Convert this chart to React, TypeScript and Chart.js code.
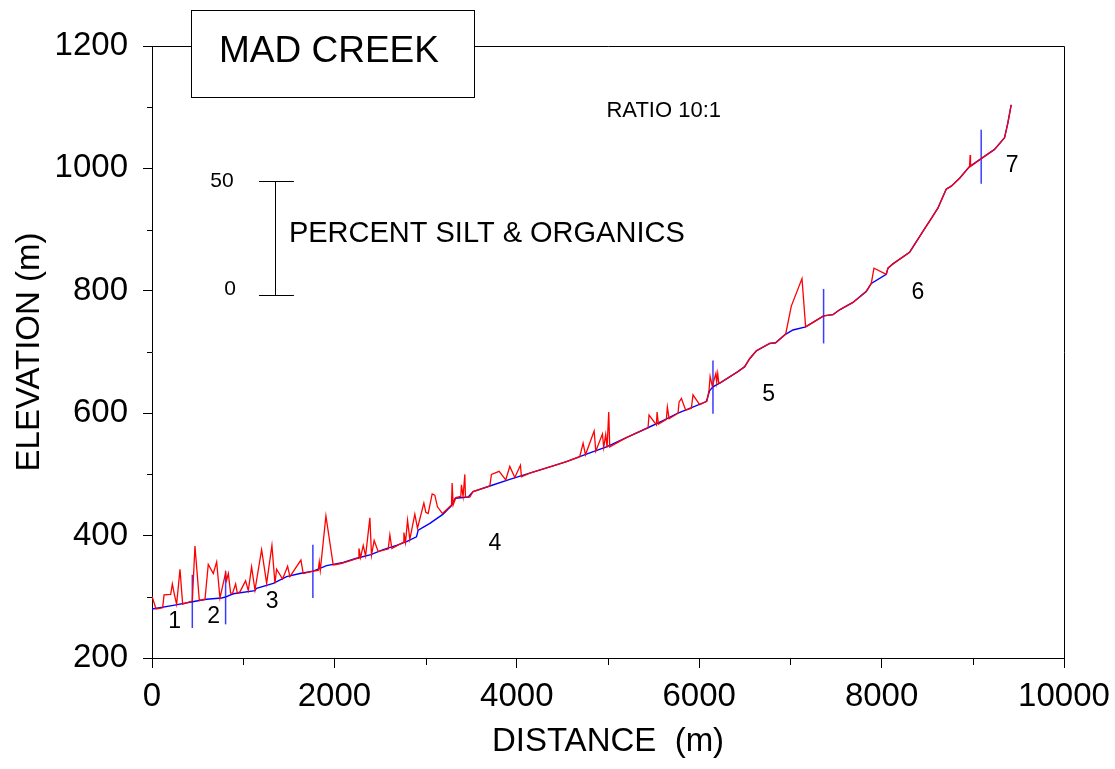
import React, { useEffect, useRef } from 'react';
import { Chart, registerables } from 'chart.js';

Chart.register(...registerables);

const FONT = 'Arial, "Liberation Sans", Helvetica, sans-serif';

// Stream-bed profile (blue): distance (m) and elevation (m)
const bedDistance = [0, 234, 442, 599, 763, 811, 891, 1129, 1147, 1330, 1476, 1622, 1768, 1914, 2097, 2243, 2400, 2535, 2681, 2791, 2900, 2919, 3047, 3192, 3284, 3325, 3467, 3521, 3704, 3923, 4142, 4398, 4545, 4690, 4763, 4983, 5201, 5420, 5603, 5768, 5896, 6078, 6115, 6151, 6225, 6425, 6499, 6553, 6627, 6773, 6838, 6937, 7028, 7167, 7266, 7364, 7467, 7540, 7686, 7832, 7887, 8051, 8070, 8124, 8307, 8453, 8544, 8617, 8708, 8764, 8855, 8964, 9092, 9238, 9348, 9384, 9421];
const bedElevation = [280, 286, 292, 296, 298, 300, 305, 310, 314, 322, 333, 338, 342, 351, 356, 363, 369, 377, 384, 390, 398, 409, 420, 435, 449, 461, 463, 472, 481, 492, 502, 514, 521, 529, 533, 545, 560, 575, 588, 600, 608, 619, 637, 643, 649, 668, 676, 689, 702, 714, 715, 728, 736, 741, 750, 759, 761, 769, 781, 799, 812, 827, 837, 844, 863, 897, 918, 935, 966, 971, 984, 1003, 1016, 1031, 1050, 1074, 1104];

// Percent silt & organics plotted on the profile (red): distance (m) and plotted elevation (m)
const siltDistance = [0, 44, 117, 132, 205, 223, 245, 270, 307, 336, 442, 471, 519, 581, 617, 672, 709, 745, 807, 818, 837, 862, 884, 917, 935, 964, 1026, 1056, 1092, 1129, 1202, 1257, 1315, 1348, 1366, 1432, 1487, 1512, 1633, 1658, 1768, 1823, 1834, 1845, 1907, 1987, 2060, 2261, 2269, 2287, 2316, 2342, 2389, 2407, 2436, 2480, 2590, 2608, 2630, 2754, 2762, 2780, 2802, 2827, 2882, 2911, 2981, 3003, 3028, 3072, 3101, 3130, 3185, 3284, 3291, 3302, 3331, 3386, 3393, 3411, 3430, 3437, 3485, 3521, 3704, 3722, 3806, 3879, 3923, 3978, 4040, 4051, 4142, 4398, 4545, 4690, 4727, 4753, 4848, 4866, 4939, 4953, 4975, 4990, 5008, 5019, 5201, 5420, 5439, 5450, 5531, 5538, 5553, 5640, 5651, 5670, 5768, 5779, 5805, 5852, 5914, 5932, 6005, 6086, 6108, 6120, 6144, 6183, 6192, 6203, 6214, 6225, 6425, 6499, 6553, 6627, 6773, 6838, 6948, 7010, 7127, 7167, 7266, 7364, 7467, 7540, 7686, 7832, 7887, 7916, 8051, 8070, 8124, 8307, 8453, 8544, 8617, 8708, 8764, 8855, 8964, 8971, 8975, 9092, 9238, 9348, 9384, 9421];
const siltElevation = [301, 280, 282, 303, 304, 321, 304, 288, 345, 288, 293, 383, 294, 296, 353, 338, 357, 298, 339, 327, 338, 306, 306, 321, 306, 308, 326, 310, 349, 311, 377, 322, 384, 322, 345, 329, 350, 333, 360, 338, 342, 343, 357, 343, 432, 352, 354, 363, 379, 364, 384, 367, 429, 368, 392, 374, 378, 401, 379, 389, 405, 389, 425, 394, 435, 412, 453, 438, 436, 468, 466, 447, 436, 450, 486, 450, 462, 464, 483, 464, 500, 463, 463, 472, 481, 500, 505, 491, 513, 495, 515, 496, 502, 514, 521, 529, 551, 532, 571, 538, 566, 544, 565, 544, 602, 545, 560, 575, 576, 597, 581, 602, 582, 590, 610, 591, 600, 618, 624, 605, 608, 630, 614, 620, 638, 660, 644, 665, 651, 665, 650, 649, 668, 676, 689, 702, 714, 715, 729, 775, 820, 741, 750, 759, 761, 769, 781, 799, 812, 837, 827, 837, 844, 863, 897, 918, 935, 966, 971, 984, 1003, 1022, 1003, 1016, 1031, 1050, 1074, 1104];

// Section boundaries (blue vertical marks)
const sectionDistance = [442, 807, 1764, 6151, 7364, 9092];
const sectionTop = [336, 342, 385, 686, 803, 1063];
const sectionBottom = [249, 255, 298, 599, 714, 975];

// Section numbers
const sectionLabels = ['1', '2', '3', '4', '5', '6', '7'];
const sectionLabelDistance = [249, 676, 1318, 3759, 6762, 8398, 9432];
const sectionLabelElevation = [259, 268, 292, 387, 631, 797, 1004];

// Silt scale bar (0 – 50 %)
const scaleBarLabels = ['50', '0'];
const scaleBarElevation = [979, 793];

// Axis ticks
const xMinorTicks = [1000, 3000, 5000, 7000, 9000];
const yMinorTicks = [300, 500, 700, 900, 1100];

// Layout of annotations (data coordinates)
const LAYOUT = {
  titleBox: { x0: 427, x1: 3529, y0: 1117, y1: 1259 },
  titleText: { x: 734, y: 1190 },
  ratio: { x: 5611, y: 1094 },
  scaleBar: { x: 1348, capLeft: 1173, capRight: 1556, labelX: 767, zeroX: 855, zeroY: 803 },
  percentText: { x: 1501, y: 893 },
};

const annotationPlugin = {
  id: 'madCreekAnnotations',
  afterDraw(chart: any) {
    const { ctx, chartArea: a, scales } = chart;
    const px = (v: number) => scales.x.getPixelForValue(v);
    const py = (v: number) => scales.y.getPixelForValue(v);
    const r = (v: number) => Math.round(v) + 0.5;
    ctx.save();
    ctx.strokeStyle = '#000';
    ctx.lineWidth = 1;
    ctx.beginPath();
    ctx.moveTo(a.left, r(a.top));
    ctx.lineTo(r(a.right), r(a.top));
    ctx.lineTo(r(a.right), a.bottom);
    for (const v of yMinorTicks) {
      const y = r(py(v));
      ctx.moveTo(a.left - 5, y);
      ctx.lineTo(a.left, y);
    }
    for (const v of xMinorTicks) {
      const x = r(px(v));
      ctx.moveTo(x, a.bottom);
      ctx.lineTo(x, a.bottom + 7);
    }
    ctx.stroke();

    // title box
    const tb = LAYOUT.titleBox;
    const bx0 = r(px(tb.x0)), bx1 = r(px(tb.x1));
    const by0 = r(py(tb.y1)), by1 = r(py(tb.y0));
    ctx.fillStyle = '#fff';
    ctx.fillRect(bx0, by0, bx1 - bx0, by1 - by0);
    ctx.strokeRect(bx0, by0, bx1 - bx0, by1 - by0);
    ctx.fillStyle = '#000';
    ctx.textBaseline = 'middle';
    ctx.textAlign = 'left';
    ctx.font = `37px ${FONT}`;
    ctx.fillText('MAD CREEK', px(LAYOUT.titleText.x), py(LAYOUT.titleText.y));

    // ratio
    ctx.textAlign = 'center';
    ctx.font = `22px ${FONT}`;
    ctx.fillText('RATIO 10:1', px(LAYOUT.ratio.x), py(LAYOUT.ratio.y));

    // scale bar
    const sb = LAYOUT.scaleBar;
    ctx.beginPath();
    const sx = r(px(sb.x));
    const sTop = r(py(scaleBarElevation[0]));
    const sBot = r(py(scaleBarElevation[1]));
    ctx.moveTo(sx, sTop);
    ctx.lineTo(sx, sBot);
    ctx.moveTo(px(sb.capLeft), sTop);
    ctx.lineTo(px(sb.capRight), sTop);
    ctx.moveTo(px(sb.capLeft), sBot);
    ctx.lineTo(px(sb.capRight), sBot);
    ctx.stroke();
    ctx.font = `21px ${FONT}`;
    ctx.fillText(scaleBarLabels[0], px(sb.labelX), py(scaleBarElevation[0]));
    ctx.fillText(scaleBarLabels[1], px(sb.zeroX), py(sb.zeroY));

    ctx.textAlign = 'left';
    ctx.font = `29px ${FONT}`;
    ctx.fillText('PERCENT SILT & ORGANICS', px(LAYOUT.percentText.x), py(LAYOUT.percentText.y));

    // section numbers
    ctx.textAlign = 'center';
    ctx.font = `23px ${FONT}`;
    sectionLabels.forEach((t, i) => {
      ctx.fillText(t, px(sectionLabelDistance[i]), py(sectionLabelElevation[i]));
    });
    ctx.restore();
  },
};

export default function App() {
  const canvasRef = useRef<HTMLCanvasElement | null>(null);

  useEffect(() => {
    if (!canvasRef.current) return;
    const bed = bedDistance.map((d, i) => ({ x: d, y: bedElevation[i] }));
    const silt = siltDistance.map((d, i) => ({ x: d, y: siltElevation[i] }));
    const sections = sectionDistance.map((d, i) => ({
      label: 'section ' + (i + 1),
      data: [{ x: d, y: sectionBottom[i] }, { x: d, y: sectionTop[i] }],
      borderColor: 'rgb(60,60,255)',
      borderWidth: 1.5,
      pointRadius: 0,
      order: 2,
    }));

    const tickFont = { family: FONT, size: 33 };
    const plain = (v: any) => String(v);
    const chart = new Chart(canvasRef.current, {
      type: 'line',
      data: {
        datasets: [
          {
            label: 'Percent silt & organics',
            data: silt,
            borderColor: '#ff0000',
            borderWidth: 1.3,
            pointRadius: 0,
            tension: 0,
            order: 0,
          },
          {
            label: 'Bed elevation',
            data: bed,
            borderColor: '#0000ff',
            borderWidth: 1.4,
            pointRadius: 0,
            tension: 0,
            order: 1,
          },
          ...sections,
        ] as any,
      },
      options: {
        animation: false,
        responsive: true,
        maintainAspectRatio: false,
        devicePixelRatio: 1,
        parsing: false as any,
        layout: { padding: { top: 46, right: 51, left: 0, bottom: 0 } },
        plugins: { legend: { display: false }, tooltip: { enabled: false }, title: { display: false } },
        scales: {
          x: {
            type: 'linear',
            min: 0,
            max: 10000,
            ticks: { stepSize: 2000, color: '#000', font: tickFont, padding: 9, maxRotation: 0, autoSkip: false, callback: plain },
            grid: { drawOnChartArea: false, drawTicks: true, tickLength: 10, color: '#000', lineWidth: 1 },
            border: { display: true, color: '#000', width: 1 },
            title: { display: true, text: 'DISTANCE  (m)', color: '#000', font: tickFont, padding: { top: 0, bottom: 7 } },
            afterFit: (s: any) => { s.height = 111; s.paddingLeft = 0; s.paddingRight = 0; },
          },
          y: {
            type: 'linear',
            min: 200,
            max: 1200,
            ticks: { stepSize: 200, color: '#000', font: tickFont, padding: 15, callback: plain },
            grid: { drawOnChartArea: false, drawTicks: true, tickLength: 9, color: '#000', lineWidth: 1 },
            border: { display: true, color: '#000', width: 1 },
            title: { display: true, text: 'ELEVATION (m)', color: '#000', font: tickFont, padding: { top: 10, bottom: 0 } },
            afterFit: (s: any) => { s.width = 152; s.paddingTop = 0; s.paddingBottom = 0; },
          },
        },
      } as any,
      plugins: [annotationPlugin],
    });
    return () => chart.destroy();
  }, []);

  return (
    <div style={{ position: 'fixed', left: 0, top: 0, width: 1115, height: 769, background: '#fff' }}>
      <canvas ref={canvasRef} />
    </div>
  );
}
